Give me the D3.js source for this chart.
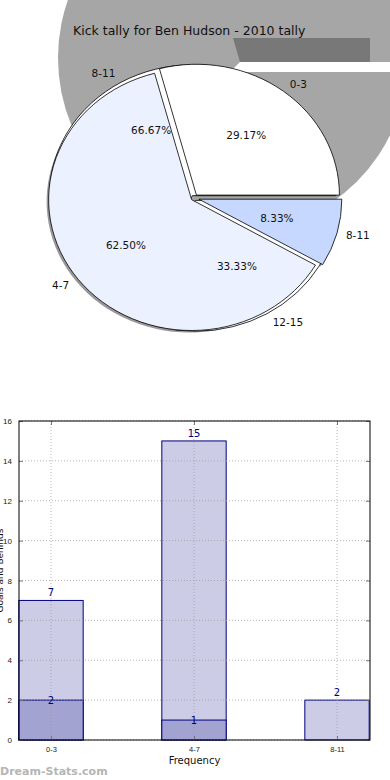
<!DOCTYPE html>
<html>
<head>
<meta charset="utf-8">
<script src="https://cdn.jsdelivr.net/npm/d3@7"></script>
<style>
  body { margin: 0; background: #fff; }
  svg { display: block; font-family: "DejaVu Sans", sans-serif; }
</style>
</head>
<body>
<svg width="390" height="780"></svg>
<script>
// pie: 2010 kick tally
const pieCats = ["0-3", "4-7", "8-11"];
const pieValues = [7, 15, 2];
const pieColors = ["#ffffff", "#ebf1ff", "#c6d8ff"];
// second (hidden) pie, only its labels show through
const pieBCats = ["8-11", "12-15"];
const pieBValues = [2, 1];

// bar chart
const barCats = ["0-3", "4-7", "8-11"];
const barTotal = [7, 15, 2];
const barInner = [2, 1, 0];
const yTicks = [0, 2, 4, 6, 8, 10, 12, 14, 16];

const svg = d3.select("svg");

// ---- background artefacts behind the pie
svg.append("circle").attr("cx", 233).attr("cy", 58).attr("r", 175).attr("fill", "#a6a6a6");
svg.append("path").attr("d", "M233,38L370,38L370,62L240,62Z").attr("fill", "#787878");
svg.append("path").attr("d", "M240,62L390,62L390,72L230,72Z").attr("fill", "#ffffff");

svg.append("text")
  .attr("x", 73).attr("y", 35)
  .attr("font-size", 12.5)
  .attr("fill", "#111")
  .text("Kick tally for Ben Hudson - 2010 tally");

// ---- pie
const C = [194, 198], R = 143, sy = 0.915;
const pie = d3.pie().sort(null)
  .startAngle(Math.PI / 2).endAngle(Math.PI / 2 - 2 * Math.PI);
const arc = d3.arc().innerRadius(0).outerRadius(R);

const arcsA = pie(pieValues);
const arcsB = pie(pieBValues);
const explode = [4, 3, 5];

// offset of a slice along its middle angle (d3 angle: clockwise from north)
const shift = (a, k) => {
  const m = (a.startAngle + a.endAngle) / 2;
  return [Math.sin(m) * k, -Math.cos(m) * k * sy];
};

const pg = svg.append("g").attr("transform", `translate(${C[0]},${C[1]})`);

// shadows
arcsA.forEach((a, i) => {
  const s = shift(a, explode[i]);
  pg.append("path")
    .attr("transform", `translate(${s[0] - 2},${s[1] + 2}) scale(1,${sy})`)
    .attr("d", arc(a))
    .attr("fill", "#999");
});

// hidden pie underneath
arcsB.forEach(a => {
  const s = shift(a, 3);
  pg.append("path")
    .attr("transform", `translate(${s[0]},${s[1]}) scale(1,${sy})`)
    .attr("d", arc(a))
    .attr("fill", "#fff")
    .attr("stroke", "#000")
    .attr("stroke-width", 0.8)
    .attr("vector-effect", "non-scaling-stroke");
});

arcsA.forEach((a, i) => {
  const s = shift(a, explode[i]);
  pg.append("path")
    .attr("transform", `translate(${s[0]},${s[1]}) scale(1,${sy})`)
    .attr("d", arc(a))
    .attr("fill", pieColors[i])
    .attr("stroke", "#000")
    .attr("stroke-width", 0.8)
    .attr("vector-effect", "non-scaling-stroke");
});

const pieLabels = (arcs, cats, values) => {
  const total = d3.sum(values);
  arcs.forEach((a, i) => {
    const m = (a.startAngle + a.endAngle) / 2;
    const dx = Math.sin(m), dy = -Math.cos(m) * sy;
    pg.append("text")
      .attr("x", dx * R * 1.1).attr("y", dy * R * 1.1)
      .attr("dy", "0.35em")
      .attr("text-anchor", dx > 0 ? "start" : "end")
      .attr("font-size", 10.5).attr("fill", "#111")
      .text(cats[i]);
    pg.append("text")
      .attr("x", dx * R * 0.6).attr("y", dy * R * 0.6)
      .attr("dy", "0.35em")
      .attr("text-anchor", "middle")
      .attr("font-size", 10.5).attr("fill", "#111")
      .text((values[i] / total * 100).toFixed(2) + "%");
  });
};
pieLabels(arcsB, pieBCats, pieBValues);
pieLabels(arcsA, pieCats, pieValues);

// ---- bar chart
const pLeft = 19, pRight = 370, pTop = 421, pBottom = 740;
const y = d3.scaleLinear().domain([0, 16]).range([pBottom, pTop]);
const x = d3.scalePoint().domain(barCats).range([51, 337]);
const bw = x.step() * 0.45;

svg.append("g").selectAll("rect")
  .data(barTotal)
  .join("rect")
    .attr("x", (d, i) => x(barCats[i]) - bw / 2)
    .attr("y", d => y(d))
    .attr("width", bw)
    .attr("height", d => y(0) - y(d))
    .attr("fill", "#cccce6")
    .attr("stroke", "#000080")
    .attr("stroke-width", 1);

svg.append("g").selectAll("rect")
  .data(barInner.map((v, i) => ({ v, c: barCats[i] })).filter(d => d.v > 0))
  .join("rect")
    .attr("x", d => x(d.c) - bw / 2)
    .attr("y", d => y(d.v))
    .attr("width", bw)
    .attr("height", d => y(0) - y(d.v))
    .attr("fill", "#a3a3d1")
    .attr("stroke", "#000080")
    .attr("stroke-width", 1);

// dotted grid drawn above the bars
const grid = svg.append("g").attr("stroke", "#999").attr("stroke-opacity", 0.7).attr("stroke-dasharray", "1,2");
barCats.forEach(c => {
  grid.append("line").attr("x1", x(c)).attr("x2", x(c)).attr("y1", pTop).attr("y2", pBottom);
});
yTicks.forEach(t => {
  grid.append("line").attr("x1", pLeft).attr("x2", pRight).attr("y1", y(t)).attr("y2", y(t));
});

svg.append("g").selectAll("text")
  .data(barTotal)
  .join("text")
    .attr("x", (d, i) => x(barCats[i]))
    .attr("y", d => y(d) - 4)
    .attr("text-anchor", "middle")
    .attr("font-size", 10).attr("fill", "#000080")
    .text(d => d);

svg.append("g").selectAll("text")
  .data(barInner.map((v, i) => ({ v, c: barCats[i] })).filter(d => d.v > 0))
  .join("text")
    .attr("x", d => x(d.c))
    .attr("y", d => y(d.v) + 4)
    .attr("text-anchor", "middle")
    .attr("font-size", 10).attr("fill", "#000080")
    .text(d => d.v);

// axes, ticks pointing inwards
const yAxis = svg.append("g").attr("transform", `translate(${pLeft},0)`)
  .call(d3.axisLeft(y).tickValues(yTicks).tickSizeInner(-4).tickSizeOuter(0).tickPadding(7));
svg.append("g").attr("transform", `translate(${pRight},0)`)
  .call(d3.axisRight(y).tickValues(yTicks).tickSizeInner(-4).tickSizeOuter(0).tickFormat(""));
const xAxis = svg.append("g").attr("transform", `translate(0,${pBottom})`)
  .call(d3.axisBottom(x).tickSizeInner(-4).tickSizeOuter(0).tickPadding(7));
svg.append("g").attr("transform", `translate(0,${pTop})`)
  .call(d3.axisTop(x).tickSizeInner(-4).tickSizeOuter(0).tickFormat(""));
svg.selectAll(".domain").remove();
svg.selectAll(".tick line").attr("stroke", "#777");
yAxis.selectAll("text").attr("font-size", 8).attr("fill", "#222");
xAxis.selectAll("text").attr("font-size", 7.5).attr("fill", "#222");

svg.append("rect")
  .attr("x", pLeft).attr("y", pTop)
  .attr("width", pRight - pLeft).attr("height", pBottom - pTop)
  .attr("fill", "none").attr("stroke", "#000").attr("stroke-width", 1);

svg.append("text")
  .attr("x", (pLeft + pRight) / 2).attr("y", 764)
  .attr("text-anchor", "middle")
  .attr("font-size", 10).attr("fill", "#111")
  .text("Frequency");

svg.append("text")
  .attr("transform", `translate(3,${(pTop + pBottom) / 2 - 10}) rotate(-90)`)
  .attr("text-anchor", "middle")
  .attr("font-size", 9).attr("fill", "#111")
  .text("Goals and Behinds");

svg.append("text")
  .attr("x", 0).attr("y", 775)
  .attr("font-size", 11).attr("font-weight", "bold")
  .attr("fill", "#b5b5b5")
  .text("Dream-Stats.com");
</script>
</body>
</html>
